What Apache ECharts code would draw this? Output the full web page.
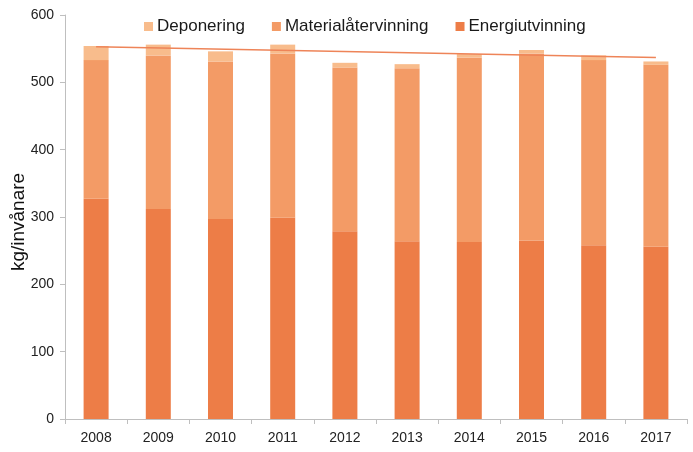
<!DOCTYPE html>
<html><head><meta charset="utf-8">
<script src="https://cdn.jsdelivr.net/npm/echarts@6/dist/echarts.min.js"></script>
<style>html,body{margin:0;padding:0;background:#fff}#c{width:693px;height:452px}</style>
</head><body><div id="c"></div>
<script>
const years = ['2008','2009','2010','2011','2012','2013','2014','2015','2016','2017'];
const energiutvinning = [327, 312, 297, 299, 279, 264, 263, 265, 258, 256];
const materialatervinning = [206, 228, 234, 244, 243, 257, 274, 278, 275, 270];
const deponering = [21, 16, 15, 13, 7, 6, 5, 5, 7, 5];
const trend = [553, null, null, null, null, null, null, null, null, 537];
const yTicks = [0, 100, 200, 300, 400, 500, 600];

const chart = echarts.init(document.getElementById('c'));
const font = 'Liberation Sans, Arial, sans-serif';
chart.setOption({
  animation: false,
  textStyle: { fontFamily: font },
  grid: { left: 65, right: 6, top: 15, bottom: 33, containLabel: false, outerBoundsMode: 'none' },
  legend: {
    top: 13, left: 139,
    data: ['Deponering', 'Materialåtervinning', 'Energiutvinning'],
    itemWidth: 9, itemHeight: 9, itemGap: 27,
    icon: 'rect',
    textStyle: { fontSize: 17, color: '#1a1a1a', fontFamily: font, padding: [0, 0, 0, -1] }
  },
  xAxis: {
    type: 'category', data: years,
    axisLine: { lineStyle: { color: '#bfbfbf' } },
    axisTick: { show: true, length: 5, alignWithLabel: false, lineStyle: { color: '#bfbfbf' } },
    axisLabel: { fontSize: 14, color: '#222', margin: 12 }
  },
  yAxis: {
    type: 'value', min: yTicks[0], max: yTicks[yTicks.length - 1], interval: 100,
    name: 'kg/invånare', nameLocation: 'middle', nameGap: 37, nameMoveOverlap: false,
    nameTextStyle: { fontSize: 19, color: '#111', fontFamily: font, padding: [0, 10, 0, 0] },
    axisLine: { show: true, lineStyle: { color: '#bfbfbf' } },
    axisTick: { show: true, length: 5, lineStyle: { color: '#bfbfbf' } },
    splitLine: { show: false },
    axisLabel: { fontSize: 14, color: '#222', margin: 11 }
  },
  series: [
    { name: 'Energiutvinning', type: 'bar', stack: 'a', data: energiutvinning, barWidth: 25,
      itemStyle: { color: '#ED7D47' } },
    { name: 'Materialåtervinning', type: 'bar', stack: 'a', data: materialatervinning, barWidth: 25,
      itemStyle: { color: '#F39B66' } },
    { name: 'Deponering', type: 'bar', stack: 'a', data: deponering, barWidth: 25,
      itemStyle: { color: '#F8BC8C' } },
    { name: 'trend', type: 'line', data: trend, connectNulls: true, symbol: 'none',
      lineStyle: { color: '#EE8458', width: 1.5 }, z: 5 }
  ]
});
</script></body></html>
